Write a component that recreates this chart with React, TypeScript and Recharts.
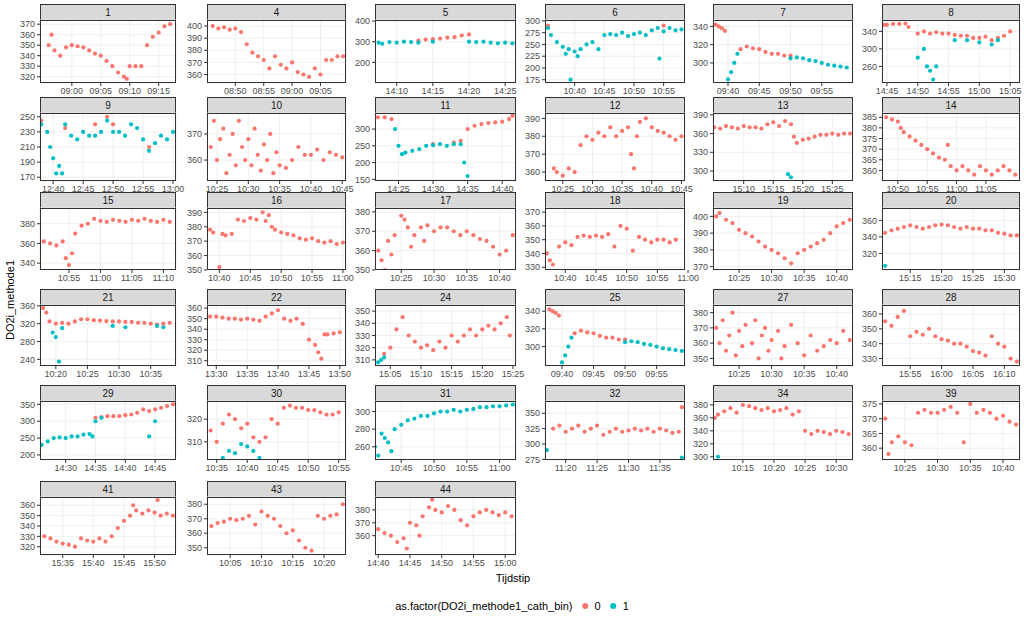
import React from 'react';
import { ScatterChart, Scatter, XAxis, YAxis, CartesianGrid } from 'recharts';

type Pt = [number, number];

const RED = '#F8766D';
const TEAL = '#00BFC4';

// x values are minutes after hour h0 (may be negative / above 60)
const p1Red: Pt[] = [[-4, 350], [-3.5, 360], [-3, 345], [-2, 340], [-1, 348], [0, 350], [1, 349], [2, 348], [3, 345], [4, 342], [5, 340], [6, 335], [7, 330], [8, 324], [9, 320], [9.5, 318], [10, 330], [11, 330], [12, 330], [13, 350], [14, 358], [15, 362], [16, 368], [17, 370]];
const p4Red: Pt[] = [[-14, 400], [-13, 398], [-12, 399], [-11, 397], [-10, 398], [-9, 395], [-8, 385], [-7, 378], [-6, 375], [-5, 372], [-4, 365], [-3, 375], [-2, 368], [-1, 365], [0, 370], [1, 362], [2, 360], [3, 358], [4, 365], [5, 360], [6, 372], [7, 372], [8, 375], [9, 375]];
const p5Red: Pt[] = [[13, 305], [14, 310], [15, 312], [16, 315], [17, 320], [18, 322], [19, 330], [20, 335]];
const p5Teal: Pt[] = [[7.5, 295], [8, 290], [9, 298], [10, 295], [11, 300], [12, 298], [13, 295], [15, 300], [20, 300], [21, 298], [22, 300], [23, 295], [24, 292], [25, 295], [26, 292]];
const p6Red: Pt[] = [[35.5, 290], [55, 290]];
const p6Teal: Pt[] = [[35.5, 285], [36, 270], [37, 255], [38, 245], [38.5, 230], [39, 240], [39.3, 175], [40, 235], [40.5, 225], [41, 240], [42, 250], [43, 255], [44, 240], [45, 270], [46, 272], [47, 270], [48, 275], [49, 268], [50, 272], [51, 275], [52, 270], [53, 280], [54, 285], [54.3, 220], [55, 278], [56, 285], [57, 280], [58, 282]];
const p7Red: Pt[] = [[38, 342], [38.5, 340], [39, 338], [39.5, 335], [42, 315], [43, 318], [44, 316], [45, 315], [46, 312], [47, 310], [48, 310], [49, 308], [50, 308]];
const p7Teal: Pt[] = [[40, 282], [40.5, 290], [41, 300], [41.5, 310], [50, 305], [51, 306], [52, 305], [53, 303], [54, 302], [55, 300], [56, 298], [57, 297], [58, 296], [59, 295]];
const p8Red: Pt[] = [[44.5, 355], [45, 355], [46, 357], [47, 357], [48, 358], [48.5, 350], [50, 335], [51, 340], [52, 335], [53, 338], [54, 335], [55, 335], [56, 332], [57, 330], [58, 330], [59, 325], [60, 325], [61, 328], [62, 320], [63, 325], [64, 330], [65, 340]];
const p8Teal: Pt[] = [[50, 280], [51, 300], [51.5, 260], [52, 250], [52.5, 230], [53, 260], [56, 320], [58, 320], [60, 315], [62, 310], [63, 320]];
const p9Red: Pt[] = [[38, 245], [42, 235], [47, 240], [49, 250], [50, 240], [56, 210]];
const p9Teal: Pt[] = [[38, 240], [39, 230], [39.5, 210], [40, 195], [40.5, 175], [41, 185], [41.5, 175], [42, 240], [43, 225], [44, 220], [45, 230], [46, 225], [47, 225], [48, 230], [49, 245], [50, 230], [51, 230], [52, 225], [53, 240], [54, 235], [55, 220], [56, 205], [57, 215], [58, 225], [59, 220], [60, 230]];
const p10Red: Pt[] = [[24, 365], [24.5, 375], [25, 360], [25.5, 368], [26, 372], [26.5, 355], [27, 362], [27.5, 370], [28, 358], [28.5, 375], [29, 365], [29.5, 360], [30, 368], [30.5, 358], [31, 372], [31.5, 362], [32, 356], [32.5, 366], [33, 360], [33.5, 370], [34, 355], [34.5, 363], [35, 358], [36, 357], [37, 360], [38, 365], [39, 362], [40, 362], [41, 364], [42, 360], [43, 363], [44, 362], [45, 361]];
const p11Red: Pt[] = [[22, 335], [23, 335], [24, 330], [30, 255], [33, 260], [34, 265], [35, 300], [36, 310], [37, 315], [38, 318], [39, 320], [40, 322], [41, 330], [41.5, 340]];
const p11Teal: Pt[] = [[24.5, 300], [25, 250], [25.5, 225], [26, 230], [27, 235], [28, 240], [29, 250], [30, 252], [31, 255], [32, 250], [33, 255], [34, 255], [34.5, 200], [35, 160]];
const p12Red: Pt[] = [[23.5, 362], [24, 360], [25, 358], [26, 362], [27, 360], [28, 375], [29, 380], [30, 378], [31, 382], [32, 380], [33, 385], [34, 380], [35, 383], [36, 385], [36.5, 370], [37, 362], [37.5, 380], [38, 388], [39, 390], [40, 385], [41, 383], [42, 382], [43, 380], [44, 378], [45, 380]];
const p13Red: Pt[] = [[5, 370], [6, 368], [7, 372], [8, 370], [9, 368], [10, 372], [11, 370], [12, 370], [13, 368], [14, 375], [15, 378], [16, 372], [17, 380], [18, 375], [18.5, 355], [19, 345], [20, 350], [21, 352], [22, 355], [23, 358], [24, 358], [25, 360], [26, 358], [27, 360], [28, 360]];
const p13Teal: Pt[] = [[17.5, 295], [18, 290]];
const p14Red: Pt[] = [[48, 385], [49, 384], [50, 383], [50.5, 380], [51, 378], [52, 376], [53, 374], [54, 372], [55, 370], [56, 368], [57, 366], [58, 365], [58.5, 372], [59, 362], [60, 360], [61, 362], [62, 360], [63, 358], [64, 362], [65, 360], [66, 358], [67, 360], [68, 362], [69, 360], [70, 358]];
const p15Red: Pt[] = [[51, 362], [52, 360], [53, 358], [54, 362], [54.5, 345], [55, 338], [55.5, 350], [56, 370], [57, 378], [58, 380], [59, 385], [60, 383], [61, 382], [62, 384], [63, 383], [64, 382], [65, 384], [66, 383], [67, 385], [68, 383], [69, 382], [70, 384], [71, 382]];
const p16Red: Pt[] = [[38.5, 378], [39, 376], [40, 352], [40.5, 375], [41, 374], [42, 375], [43, 385], [44, 384], [45, 386], [46, 385], [47, 390], [47.5, 384], [48, 388], [48.5, 380], [49, 378], [50, 376], [51, 375], [52, 374], [53, 372], [54, 371], [55, 372], [56, 370], [57, 369], [58, 370], [59, 368], [60, 369]];
const p17Red: Pt[] = [[21.5, 360], [22, 355], [22.5, 350], [23, 365], [23.5, 358], [24, 368], [25, 378], [25.5, 376], [26, 372], [26.5, 362], [27, 368], [28, 372], [28.5, 365], [29, 373], [30, 370], [31, 372], [32, 372], [33, 370], [34, 368], [35, 370], [36, 368], [37, 366], [38, 365], [39, 362], [40, 358], [41, 360], [42, 368]];
const p18Red: Pt[] = [[37, 340], [37.5, 335], [38, 332], [39, 345], [40, 348], [41, 346], [42, 352], [43, 353], [44, 352], [45, 353], [46, 352], [47, 354], [48, 345], [49, 360], [50, 358], [51, 342], [52, 352], [53, 350], [54, 348], [55, 350], [56, 350], [57, 348], [58, 350]];
const p19Red: Pt[] = [[21.5, 400], [22, 402], [23, 398], [24, 396], [25, 392], [26, 390], [27, 388], [28, 385], [29, 382], [30, 380], [31, 378], [32, 375], [33, 372], [34, 378], [35, 380], [36, 382], [37, 384], [38, 386], [39, 390], [40, 394], [41, 396], [42, 398]];
const p20Red: Pt[] = [[11, 345], [12, 348], [13, 350], [14, 352], [15, 354], [16, 352], [17, 350], [18, 352], [19, 354], [20, 355], [21, 354], [22, 352], [23, 350], [24, 352], [25, 350], [26, 350], [27, 348], [28, 348], [29, 345], [30, 344], [31, 342], [32, 342]];
const p20Teal: Pt[] = [[11, 305]];
const p21Red: Pt[] = [[18, 355], [18.5, 345], [19, 325], [20, 320], [21, 322], [22, 320], [23, 325], [24, 330], [25, 330], [26, 328], [27, 327], [28, 326], [29, 325], [30, 325], [31, 324], [32, 324], [33, 322], [34, 322], [35, 320], [36, 318], [37, 320], [38, 322]];
const p21Teal: Pt[] = [[19.5, 300], [20, 290], [20.5, 235], [21, 310], [29, 315], [31, 312], [36, 315], [37, 312]];
const p22Red: Pt[] = [[29, 352], [30, 352], [31, 351], [32, 350], [33, 350], [34, 349], [35, 350], [36, 349], [37, 348], [38, 352], [39, 355], [40, 358], [41, 350], [42, 348], [43, 350], [44, 345], [45, 330], [46, 325], [46.5, 318], [47, 312], [47.5, 335], [48, 335], [49, 336], [50, 337]];
const p24Red: Pt[] = [[4, 315], [5, 320], [6, 335], [7, 345], [8, 330], [9, 325], [10, 320], [11, 322], [12, 318], [13, 325], [14, 320], [15, 330], [16, 325], [17, 330], [18, 335], [19, 330], [20, 335], [21, 338], [22, 335], [23, 340], [24, 345], [24.5, 330]];
const p24Teal: Pt[] = [[3, 308], [3.5, 310], [4, 312]];
const p25Red: Pt[] = [[38, 342], [38.5, 340], [39, 338], [39.5, 335], [42, 315], [43, 318], [44, 316], [45, 315], [46, 312], [47, 310], [48, 310], [49, 308], [50, 308]];
const p25Teal: Pt[] = [[40, 282], [40.5, 290], [41, 300], [41.5, 310], [50, 305], [51, 306], [52, 305], [53, 303], [54, 302], [55, 300], [56, 298], [57, 297], [58, 296], [59, 295]];
const p27Red: Pt[] = [[21.5, 370], [22, 360], [22.5, 375], [23, 355], [23.5, 365], [24, 380], [24.5, 352], [25, 368], [25.5, 358], [26, 372], [27, 360], [27.5, 375], [28, 350], [28.5, 365], [29, 370], [29.5, 355], [30, 362], [31, 368], [31.5, 350], [32, 358], [33, 372], [34, 360], [35, 352], [36, 365], [37, 355], [38, 358], [39, 362], [40, 360], [41, 368], [42, 362]];
const p28Red: Pt[] = [[51, 355], [52, 352], [53, 358], [54, 362], [55, 345], [56, 348], [57, 346], [58, 350], [59, 345], [60, 343], [61, 342], [62, 340], [63, 340], [64, 338], [65, 335], [66, 334], [67, 332], [68, 345], [69, 340], [70, 338], [71, 330], [72, 328]];
const p29Red: Pt[] = [[35, 310], [36, 312], [37, 315], [38, 315], [39, 315], [40, 318], [41, 320], [42, 325], [43, 335], [44, 330], [45, 335], [46, 340], [47, 345], [48, 350]];
const p29Teal: Pt[] = [[26, 230], [27, 240], [28, 250], [29, 252], [30, 250], [31, 255], [32, 255], [33, 260], [34, 262], [34.5, 255], [35, 300], [36, 310], [44, 255], [45, 300]];
const p30Red: Pt[] = [[34, 315], [35, 310], [36, 318], [37, 322], [38, 320], [39, 316], [40, 318], [41, 312], [42, 310], [43, 312], [44, 320], [45, 318], [46, 325], [47, 326], [48, 325], [49, 325], [50, 324], [51, 324], [52, 323], [53, 322], [54, 322], [55, 323]];
const p30Teal: Pt[] = [[36, 303], [37, 306], [38, 305], [39, 309], [40, 308], [41, 306], [42, 303]];
const p31Teal: Pt[] = [[41, 260], [41.5, 250], [42, 275], [42.5, 270], [43, 265], [43.5, 255], [44, 280], [45, 285], [46, 290], [47, 292], [48, 295], [49, 295], [50, 298], [51, 300], [52, 300], [53, 302], [54, 300], [55, 302], [56, 303], [57, 305], [58, 305], [59, 306], [60, 306], [61, 307], [62, 308]];
const p32Red: Pt[] = [[18, 325], [19, 330], [20, 320], [21, 325], [22, 330], [23, 320], [24, 325], [25, 330], [26, 315], [27, 320], [28, 325], [29, 320], [30, 322], [31, 325], [32, 322], [33, 325], [34, 320], [35, 325], [36, 322], [37, 318], [38, 320], [38.5, 360]];
const p32Teal: Pt[] = [[17, 290], [38.5, 278]];
const p34Red: Pt[] = [[10.5, 360], [11, 365], [12, 370], [13, 375], [14, 368], [15, 380], [16, 378], [17, 375], [18, 372], [19, 375], [20, 370], [21, 372], [22, 375], [23, 365], [24, 370], [25, 340], [26, 335], [27, 340], [28, 338], [29, 335], [30, 340], [31, 338], [32, 335]];
const p34Teal: Pt[] = [[11, 300]];
const p39Red: Pt[] = [[22, 370], [22.5, 358], [23, 362], [24, 364], [25, 362], [26, 361], [27, 372], [28, 373], [29, 372], [30, 372], [31, 373], [32, 374], [33, 372], [34, 362], [35, 375], [36, 372], [37, 373], [38, 372], [39, 370], [40, 371], [41, 369], [42, 368]];
const p41Red: Pt[] = [[32, 330], [33, 328], [34, 325], [35, 323], [36, 322], [37, 320], [38, 328], [39, 326], [40, 325], [41, 328], [42, 325], [43, 330], [44, 338], [45, 345], [46, 350], [46.5, 360], [47, 355], [48, 352], [49, 355], [50, 353], [50.5, 365], [51, 350], [52, 352], [53, 350]];
const p43Red: Pt[] = [[2, 365], [3, 367], [4, 368], [5, 370], [6, 369], [7, 370], [8, 372], [9, 366], [10, 375], [11, 372], [12, 370], [13, 365], [14, 360], [15, 362], [16, 355], [17, 350], [18, 348], [19, 372], [20, 370], [21, 372], [22, 373], [23, 380]];
const p44Red: Pt[] = [[40, 365], [41, 362], [42, 360], [43, 355], [44, 358], [44.5, 350], [45, 370], [46, 368], [46.5, 360], [47, 375], [48, 382], [48.5, 388], [49, 380], [50, 378], [51, 383], [52, 380], [53, 372], [54, 368], [55, 375], [56, 378], [57, 380], [58, 378], [59, 376], [60, 378], [61, 375]];

type PanelDef = {
  id: string; row: number; col: number; h0: number;
  x: [number, number]; xTicks: number[];
  y: [number, number]; yTicks: number[];
  red: Pt[]; teal: Pt[];
};

const panels: PanelDef[] = [
  { id: '1', row: 0, col: 0, h0: 9, x: [-5.5, 18], xTicks: [0, 5, 10, 15], y: [314, 374], yTicks: [320, 330, 340, 350, 360, 370], red: p1Red, teal: [] },
  { id: '4', row: 0, col: 1, h0: 9, x: [-15, 9.5], xTicks: [-10, -5, 0, 5], y: [353, 405], yTicks: [360, 370, 380, 390, 400], red: p4Red, teal: [] },
  { id: '5', row: 0, col: 2, h0: 14, x: [7, 26.5], xTicks: [10, 15, 20, 25], y: [100, 405], yTicks: [200, 300, 400], red: p5Red, teal: p5Teal },
  { id: '6', row: 0, col: 3, h0: 10, x: [35, 58.6], xTicks: [40, 45, 50, 55], y: [168, 302], yTicks: [175, 200, 225, 250, 275, 300], red: p6Red, teal: p6Teal },
  { id: '7', row: 0, col: 4, h0: 9, x: [37.6, 60], xTicks: [40, 45, 50, 55], y: [278, 347], yTicks: [300, 320, 340], red: p7Red, teal: p7Teal },
  { id: '8', row: 0, col: 5, h0: 14, x: [44.2, 66.6], xTicks: [45, 50, 55, 60, 65], y: [222, 366], yTicks: [260, 300, 340], red: p8Red, teal: p8Teal },
  { id: '9', row: 1, col: 0, h0: 12, x: [37.8, 60.5], xTicks: [40, 45, 50, 55, 60], y: [165, 255], yTicks: [170, 190, 210, 230, 250], red: p9Red, teal: p9Teal },
  { id: '10', row: 1, col: 1, h0: 10, x: [23.4, 45.6], xTicks: [25, 30, 35, 40, 45], y: [352, 378], yTicks: [360, 370], red: p10Red, teal: [] },
  { id: '11', row: 1, col: 2, h0: 14, x: [21.6, 42], xTicks: [25, 30, 35, 40], y: [145, 348], yTicks: [150, 200, 250, 300], red: p11Red, teal: p11Teal },
  { id: '12', row: 1, col: 3, h0: 10, x: [22, 45.6], xTicks: [25, 30, 35, 40, 45], y: [355, 393], yTicks: [360, 370, 380, 390], red: p12Red, teal: [] },
  { id: '13', row: 1, col: 4, h0: 15, x: [4.8, 28.5], xTicks: [10, 15, 20, 25], y: [284, 393], yTicks: [300, 330, 360, 390], red: p13Red, teal: p13Teal },
  { id: '14', row: 1, col: 5, h0: 10, x: [47.3, 70.8], xTicks: [50, 55, 60, 65], y: [355, 387], yTicks: [360, 365, 370, 375, 380, 385], red: p14Red, teal: [] },
  { id: '15', row: 2, col: 0, h0: 10, x: [50.4, 72], xTicks: [55, 60, 65, 70], y: [333, 396], yTicks: [340, 360, 380], red: p15Red, teal: [] },
  { id: '16', row: 2, col: 1, h0: 10, x: [38, 60.5], xTicks: [40, 45, 50, 55, 60], y: [350, 393], yTicks: [350, 360, 370, 380, 390], red: p16Red, teal: [] },
  { id: '17', row: 2, col: 2, h0: 10, x: [21, 42.5], xTicks: [25, 30, 35, 40], y: [350, 382], yTicks: [350, 360, 370, 380], red: p17Red, teal: [] },
  { id: '18', row: 2, col: 3, h0: 10, x: [36.7, 59.5], xTicks: [40, 45, 50, 55, 60], y: [328, 373], yTicks: [330, 340, 350, 360, 370], red: p18Red, teal: [] },
  { id: '19', row: 2, col: 4, h0: 10, x: [21, 42.5], xTicks: [25, 30, 35, 40], y: [368, 405], yTicks: [370, 380, 390, 400], red: p19Red, teal: [] },
  { id: '20', row: 2, col: 5, h0: 15, x: [10.5, 32.5], xTicks: [15, 20, 25, 30], y: [300, 375], yTicks: [320, 340, 360], red: p20Red, teal: p20Teal },
  { id: '21', row: 3, col: 0, h0: 10, x: [17.5, 39], xTicks: [20, 25, 30, 35], y: [225, 362], yTicks: [240, 280, 320, 360], red: p21Red, teal: p21Teal },
  { id: '22', row: 3, col: 1, h0: 13, x: [28.5, 51], xTicks: [30, 35, 40, 45, 50], y: [305, 363], yTicks: [310, 320, 330, 340, 350, 360], red: p22Red, teal: [] },
  { id: '24', row: 3, col: 2, h0: 15, x: [2.5, 25.5], xTicks: [5, 10, 15, 20, 25], y: [305, 355], yTicks: [310, 320, 330, 340, 350], red: p24Red, teal: p24Teal },
  { id: '25', row: 3, col: 3, h0: 9, x: [37.3, 59.5], xTicks: [40, 45, 50, 55], y: [278, 347], yTicks: [300, 320, 340], red: p25Red, teal: p25Teal },
  { id: '27', row: 3, col: 4, h0: 10, x: [21, 42.5], xTicks: [25, 30, 35, 40], y: [345, 385], yTicks: [350, 360, 370, 380], red: p27Red, teal: [] },
  { id: '28', row: 3, col: 5, h0: 15, x: [50.5, 72.5], xTicks: [55, 60, 65, 70], y: [325, 366], yTicks: [330, 340, 350, 360], red: p28Red, teal: [] },
  { id: '29', row: 4, col: 0, h0: 14, x: [25.7, 48.5], xTicks: [30, 35, 40, 45], y: [185, 360], yTicks: [200, 250, 300, 350], red: p29Red, teal: p29Teal },
  { id: '30', row: 4, col: 1, h0: 10, x: [33.4, 56.2], xTicks: [35, 40, 45, 50, 55], y: [302, 328], yTicks: [310, 320], red: p30Red, teal: p30Teal },
  { id: '31', row: 4, col: 2, h0: 10, x: [41, 62.5], xTicks: [45, 50, 55, 60], y: [245, 312], yTicks: [260, 280, 300], red: [], teal: p31Teal },
  { id: '32', row: 4, col: 3, h0: 11, x: [16.7, 39], xTicks: [20, 25, 30, 35], y: [274, 370], yTicks: [275, 300, 325, 350], red: p32Red, teal: p32Teal },
  { id: '34', row: 4, col: 4, h0: 10, x: [10.2, 32.7], xTicks: [15, 20, 25, 30], y: [295, 386], yTicks: [300, 320, 340, 360, 380], red: p34Red, teal: p34Teal },
  { id: '39', row: 4, col: 5, h0: 10, x: [21.5, 42.6], xTicks: [25, 30, 35, 40], y: [356, 376], yTicks: [360, 365, 370, 375], red: p39Red, teal: [] },
  { id: '41', row: 5, col: 0, h0: 15, x: [31.3, 53.5], xTicks: [35, 40, 45, 50], y: [312, 368], yTicks: [320, 330, 340, 350, 360], red: p41Red, teal: [] },
  { id: '43', row: 5, col: 1, h0: 10, x: [1.3, 23.5], xTicks: [5, 10, 15, 20], y: [345, 385], yTicks: [350, 360, 370, 380], red: p43Red, teal: [] },
  { id: '44', row: 5, col: 2, h0: 14, x: [39.5, 61.7], xTicks: [40, 45, 50, 55, 60], y: [345, 390], yTicks: [360, 370, 380], red: p44Red, teal: [] },
];

const colLeft = [40, 207, 375, 545, 713, 882];
const colRight = [176, 346, 516, 685, 853, 1020];
const rowTop = [20, 113, 208, 305, 401, 497];
const rowBottom = [83, 181, 270, 366, 460, 555];

const STRIP = 16;
const YW = 34;
const XH = 18;
const MT = 6;
const MR = 14;
const FONT = '"Liberation Sans", Arial, sans-serif';

const pad = (n: number) => String(n).padStart(2, '0');
const timeLabel = (h0: number) => (v: number) => {
  const total = h0 * 60 + Math.round(v);
  return `${pad(Math.floor(total / 60))}:${pad(((total % 60) + 60) % 60)}`;
};

const dot = (color: string) => (props: any) => (
  <circle cx={props.cx} cy={props.cy} r={2.1} fill={color} />
);

const toObj = (pts: Pt[]) => pts.map(([x, y]) => ({ x, y }));

function Panel({ p }: { p: PanelDef }) {
  const left = colLeft[p.col];
  const top = rowTop[p.row];
  const w = colRight[p.col] - left;
  const h = rowBottom[p.row] - top;
  const tick = { fontSize: 9, fill: '#4d4d4d', fontFamily: FONT };
  return (
    <>
      <div style={{
        position: 'absolute', left, top: top - STRIP, width: w, height: STRIP, boxSizing: 'border-box',
        background: '#d9d9d9', border: '1px solid #333', borderBottom: 'none',
        fontSize: 10, fontFamily: FONT, color: '#1a1a1a', textAlign: 'center', lineHeight: `${STRIP - 1}px`,
      }}>{p.id}</div>
      <div style={{ position: 'absolute', left: left - YW, top: top - MT }}>
        <ScatterChart width={w + YW + MR} height={h + XH + MT} margin={{ top: MT, right: MR, bottom: 0, left: 0 }}>
          <CartesianGrid stroke="#ebebeb" strokeWidth={0.8} />
          <XAxis type="number" dataKey="x" domain={p.x} ticks={p.xTicks} allowDataOverflow
            tickFormatter={timeLabel(p.h0)} tick={tick} tickSize={3} height={XH}
            axisLine={false} tickLine={{ stroke: '#333' }} interval={0} />
          <YAxis type="number" dataKey="y" domain={p.y} ticks={p.yTicks} allowDataOverflow
            tick={tick} tickSize={3} width={YW} axisLine={false} tickLine={{ stroke: '#333' }} interval={0} />
          <Scatter data={toObj(p.red)} fill={RED} shape={dot(RED)} isAnimationActive={false} />
          <Scatter data={toObj(p.teal)} fill={TEAL} shape={dot(TEAL)} isAnimationActive={false} />
        </ScatterChart>
      </div>
      <div style={{
        position: 'absolute', left, top, width: w, height: h,
        border: '1px solid #333', boxSizing: 'border-box', pointerEvents: 'none',
      }} />
    </>
  );
}

export default function App() {
  return (
    <div style={{ position: 'absolute', left: 0, top: 0, width: 1024, height: 623, background: '#fff', fontFamily: FONT }}>
      {panels.map((p) => <Panel key={p.id} p={p} />)}
      <div style={{
        position: 'absolute', left: 10, top: 300, transform: 'translate(-50%, -50%) rotate(-90deg)',
        fontSize: 11, color: '#000', whiteSpace: 'nowrap',
      }}>DO2i_methode1</div>
      <div style={{ position: 'absolute', left: 513, top: 578, transform: 'translate(-50%, -50%)', fontSize: 11 }}>Tijdstip</div>
      <div style={{ position: 'absolute', left: 512, top: 606, transform: 'translate(-50%, -50%)', display: 'flex', alignItems: 'center', fontSize: 11, whiteSpace: 'nowrap' }}>
        <span style={{ marginRight: 10 }}>as.factor(DO2i_methode1_cath_bin)</span>
        <span style={{ width: 6, height: 6, borderRadius: 3, background: RED, display: 'inline-block', marginRight: 6 }} />
        <span style={{ marginRight: 10 }}>0</span>
        <span style={{ width: 6, height: 6, borderRadius: 3, background: TEAL, display: 'inline-block', marginRight: 6 }} />
        <span>1</span>
      </div>
    </div>
  );
}
